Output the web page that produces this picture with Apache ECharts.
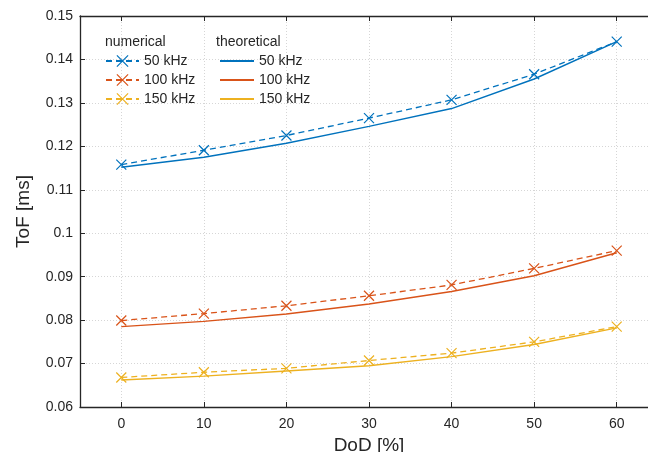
<!DOCTYPE html>
<html>
<head>
<meta charset="utf-8">
<script src="https://cdn.jsdelivr.net/npm/echarts@6/dist/echarts.min.js"></script>
<style>html,body{margin:0;padding:0;background:#fff;}#c{width:648px;height:452px;}</style>
</head>
<body>
<div id="c"></div>
<script>
var dod = [0, 10, 20, 30, 40, 50, 60];
var xTicks = [0, 10, 20, 30, 40, 50, 60];
var num50 = [0.1158, 0.1191, 0.1225, 0.1265, 0.1307, 0.1366, 0.1441];
var num100 = [0.0799, 0.0815, 0.0833, 0.0856, 0.0881, 0.0919, 0.0960];
var num150 = [0.0668, 0.0680, 0.0689, 0.0707, 0.0724, 0.0750, 0.0785];
var th50 = [0.1152, 0.1175, 0.1207, 0.1246, 0.1287, 0.1355, 0.1441];
var th100 = [0.0785, 0.0797, 0.0814, 0.0837, 0.0866, 0.0902, 0.0955];
var th150 = [0.0662, 0.0671, 0.0683, 0.0695, 0.0716, 0.0744, 0.0782];
var freqLabels = ['50 kHz', '100 kHz', '150 kHz'];
var colors = ['#0072BD', '#D95319', '#EDB120'];

function pairs(ys) { return dod.map(function (x, i) { return [x, ys[i]]; }); }
var cross = 'path://M0,0L10,10M10,0L0,10';
var numSets = [num50, num100, num150];
var thSets = [th50, th100, th150];
var series = [];
numSets.forEach(function (d, i) {
  series.push({
    name: 'n' + i, type: 'line', data: pairs(d), symbol: cross, symbolSize: 10,
    lineStyle: { color: colors[i], width: 1.3, type: [6, 4] },
    itemStyle: { color: colors[i], borderColor: colors[i], borderWidth: 1.2 },
    z: 3
  });
});
thSets.forEach(function (d, i) {
  series.push({
    name: 't' + i, type: 'line', data: pairs(d), symbol: 'none', showSymbol: false,
    lineStyle: { color: colors[i], width: 1.4, type: 'solid' },
    itemStyle: { color: colors[i] },
    z: 2
  });
});
function fmt(name) { return freqLabels[+name.slice(1)]; }
var FF = 'Liberation Sans, Arial, sans-serif';
var txt = { color: '#262626', fontSize: 14, fontFamily: FF };
var gridLine = { show: true, lineStyle: { color: '#d6d6d6', type: [1, 2], width: 1 } };
var axisCol = '#262626';

var chart = echarts.init(document.getElementById('c'));
chart.setOption({
  animation: false,
  backgroundColor: '#fff',
  grid: { left: 80, top: 16, width: 578, height: 391, outerBoundsMode: 'none', containLabel: false },
  xAxis: [{
    type: 'value', min: -5, max: 65, position: 'bottom',
    axisLine: { onZero: false, lineStyle: { color: axisCol, width: 1.3 } },
    axisTick: { inside: true, length: 5, customValues: xTicks, lineStyle: { color: axisCol } },
    axisLabel: { color: axisCol, fontSize: 14, margin: 10, fontFamily: FF, customValues: xTicks },
    splitLine: gridLine,
    name: 'DoD [%]', nameLocation: 'middle', nameGap: 26,
    nameTextStyle: { color: axisCol, fontSize: 19, fontFamily: FF }
  }, {
    type: 'value', min: -5, max: 65, position: 'top',
    axisLine: { onZero: false, lineStyle: { color: axisCol, width: 1.3 } },
    axisTick: { inside: true, length: 5, customValues: xTicks, lineStyle: { color: axisCol } },
    axisLabel: { show: false }, splitLine: { show: false }
  }],
  yAxis: {
    type: 'value', min: 0.06, max: 0.15, interval: 0.01,
    axisLine: { show: true, onZero: false, lineStyle: { color: axisCol, width: 1.3 } },
    axisTick: { show: true, inside: true, length: 5, lineStyle: { color: axisCol } },
    axisLabel: { color: axisCol, fontSize: 14, margin: 7, fontFamily: FF,
      formatter: function (v) { return String(parseFloat(v.toFixed(2))); } },
    splitLine: gridLine,
    name: 'ToF [ms]', nameLocation: 'middle', nameGap: 47, nameRotate: 90,
    nameTextStyle: { color: axisCol, fontSize: 19, fontFamily: FF }
  },
  legend: [{
    data: ['n0', 'n1', 'n2'], orient: 'vertical', left: 105, top: 54,
    itemWidth: 33, itemHeight: 14, itemGap: 5, formatter: fmt, textStyle: txt,
    itemStyle: { borderWidth: 1.2 },
    padding: 0, selectedMode: false
  }, {
    data: ['t0', 't1', 't2'], orient: 'vertical', left: 219, top: 54,
    itemWidth: 34, itemHeight: 14, itemGap: 5, formatter: fmt, textStyle: txt,
    itemStyle: { opacity: 0 },
    padding: 0, selectedMode: false
  }],
  graphic: [
    { type: 'text', left: 105, top: 35, style: { text: 'numerical', fill: axisCol, font: '14px Liberation Sans, Arial, sans-serif' } },
    { type: 'text', left: 216, top: 35, style: { text: 'theoretical', fill: axisCol, font: '14px Liberation Sans, Arial, sans-serif' } }
  ],
  series: series
});
</script>
</body>
</html>
